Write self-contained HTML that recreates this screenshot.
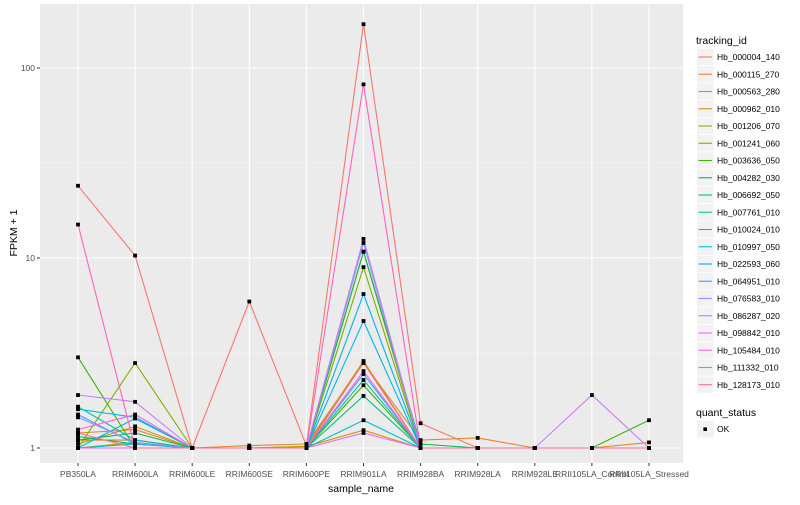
<!DOCTYPE html>
<html><head><meta charset="utf-8"><style>
body{margin:0;background:#fff;font-family:"Liberation Sans",sans-serif;}
svg text{font-family:"Liberation Sans",sans-serif;}
</style></head><body>
<svg id="chart" width="800" height="500" xmlns="http://www.w3.org/2000/svg">
<rect x="0" y="0" width="800" height="500" fill="#fff"/>
<g id="panel"></g>
<g id="axes"></g>
<g id="legend"></g>
<text x="361" y="492" text-anchor="middle" font-size="10.5" fill="#000">sample_name</text>
<text x="0" y="0" transform="translate(17,233) rotate(-90)" text-anchor="middle" font-size="10.5" fill="#000">FPKM + 1</text>
</svg>
<script>
const categories=["PB350LA","RRIM600LA","RRIM600LE","RRIM600SE","RRIM600PE","RRIM901LA","RRIM928BA","RRIM928LA","RRIM928LE","RRII105LA_Control","RRII105LA_Stressed"];
const seriesNames=["Hb_000004_140","Hb_000115_270","Hb_000563_280","Hb_000962_010","Hb_001206_070","Hb_001241_060","Hb_003636_050","Hb_004282_030","Hb_006692_050","Hb_007761_010","Hb_010024_010","Hb_010997_050","Hb_022593_060","Hb_064951_010","Hb_076583_010","Hb_086287_020","Hb_098842_010","Hb_105484_010","Hb_111332_010","Hb_128173_010"];
const seriesColors=["#F8766D","#EA8331","#D89000","#C09B00","#A3A500","#7CAE00","#39B600","#00BB4E","#00BF7D","#00C1A3","#00BFC4","#00BAE0","#00B0F6","#35A2FF","#9590FF","#C77CFF","#E76BF3","#FA62DB","#FF62BC","#FF6C91"];
const s00=[24,10.3,1,5.9,1.03,170,1.35,1,1,1,1];
const s01=[1.2,1.25,1,1.03,1.05,2.8,1.1,1.13,1,1,1.07];
const s02=[1.1,1.1,1,1,1.02,1.24,1,1,1,1,1];
const s03=[1.05,1.3,1,1,1.02,2.87,1,1,1,1,1];
const s04=[1.0,1.07,1,1,1,10.8,1,1,1,1,1];
const s05=[1.0,2.8,1,1,1,8.95,1,1,1,1,1];
const s06=[3.0,1.0,1,1,1,2.14,1,1,1,1,1.4];
const s07=[1.1,1.2,1,1,1,10.8,1.05,1,1,1,1];
const s08=[1.15,1.05,1,1,1,1.88,1,1,1,1,1];
const s09=[1.65,1.1,1,1,1,2.28,1,1,1,1,1];
const s10=[1.0,1.05,1,1,1,1.4,1,1,1,1,1];
const s11=[1.6,1.45,1,1,1,4.66,1,1,1,1,1];
const s12=[1.0,1.43,1,1,1,6.46,1,1,1,1,1];
const s13=[1.5,1.05,1,1,1,2.45,1,1,1,1,1];
const s14=[1.45,1.07,1,1,1,12.0,1,1,1,1,1];
const s15=[1.9,1.75,1,1,1,12.6,1,1,1,1.9,1];
const s16=[1.0,1.0,1,1,1,1.2,1,1,1,1,1];
const s17=[1.25,1.5,1,1,1,2.54,1,1,1,1,1];
const s18=[15,1.0,1,1,1,82,1,1,1,1,1];
const s19=[1.2,1.0,1,1,1,2.8,1,1,1,1,1];
const seriesValues=[s00,s01,s02,s03,s04,s05,s06,s07,s08,s09,s10,s11,s12,s13,s14,s15,s16,s17,s18,s19];
const yTicks=[1,10,100];
const yTickLabels=["1","10","100"];

const NS="http://www.w3.org/2000/svg";
const PL=40,PR=683,PT=4,PB=463;
function xScale(i){return 78+i*57.1;}
function yScale(v){return 448-190*Math.log10(v);}
function mk(tag,attrs,parent){const e=document.createElementNS(NS,tag);for(const k in attrs)e.setAttribute(k,attrs[k]);parent.appendChild(e);return e;}
const panel=document.getElementById('panel');
const axes=document.getElementById('axes');
const legend=document.getElementById('legend');
mk('rect',{x:PL,y:PT,width:PR-PL,height:PB-PT,fill:'#EBEBEB'},panel);
for(let k=0;k<yTicks.length;k++){const y=yScale(yTicks[k]*Math.sqrt(10));if(y>PT)mk('line',{x1:PL,x2:PR,y1:y,y2:y,stroke:'#F5F5F5','stroke-width':0.6},panel);}
yTicks.forEach((t,k)=>{const y=yScale(t);
 const g=mk('line',{x1:PL,x2:PR,y1:y,y2:y,stroke:'#fff','stroke-width':1.1},panel);
 
 
 mk('line',{x1:PL-3,x2:PL,y1:y,y2:y,stroke:'#333','stroke-width':1},axes);
 const tx=mk('text',{x:PL-5,y:y+3,'text-anchor':'end','font-size':8.5,fill:'#4D4D4D'},axes);
 tx.textContent=yTickLabels[k];
 
 
});
categories.forEach((c,i)=>{const x=xScale(i);
 mk('line',{x1:x,x2:x,y1:PT,y2:PB,stroke:'#fff','stroke-width':1.1},panel);
 mk('line',{x1:x,x2:x,y1:PB,y2:PB+3,stroke:'#333','stroke-width':1},axes);
 const tx=mk('text',{x:x,y:PB+14,'text-anchor':'middle','font-size':8.5,fill:'#4D4D4D'},axes);
 tx.textContent=c;
 
 
});
seriesValues.forEach((vals,s)=>{
 const pts=vals.map((v,i)=>xScale(i).toFixed(1)+','+yScale(v).toFixed(1)).join(' ');
 const pl=mk('polyline',{points:pts,fill:'none',stroke:seriesColors[s],'stroke-width':1.1},panel);
 
 
});
seriesValues.forEach((vals,s)=>{
 vals.forEach((v,i)=>{
  const r=mk('rect',{x:xScale(i)-1.9,y:yScale(v)-1.9,width:3.8,height:3.8,fill:'#000'},panel);
  
  
 });
});
const lt=mk('text',{x:696,y:44,'font-size':10.5,fill:'#000'},legend);
lt.textContent='tracking_id';


seriesNames.forEach((n,s)=>{
 const y=57+s*17.25;
 const g=mk('g',{},legend);
 
 
 mk('rect',{x:697,y:y-8.3,width:16.5,height:16.5,fill:'#F2F2F2'},g);
 mk('line',{x1:698.5,x2:712,y1:y,y2:y,stroke:seriesColors[s],'stroke-width':1.1},g);
 const t=mk('text',{x:717,y:y+3,'font-size':8.5,fill:'#000'},g);
 t.textContent=n;
});
const qt=mk('text',{x:696,y:416,'font-size':10.5,fill:'#000'},legend);
qt.textContent='quant_status';


const qg=mk('g',{},legend);


mk('rect',{x:697,y:421,width:16.5,height:16.5,fill:'#F2F2F2'},qg);
mk('rect',{x:703.4,y:427.4,width:3.6,height:3.6,fill:'#000'},qg);
const ot=mk('text',{x:717,y:432,'font-size':8.5,fill:'#000'},qg);
ot.textContent='OK';
</script>
</body></html>
